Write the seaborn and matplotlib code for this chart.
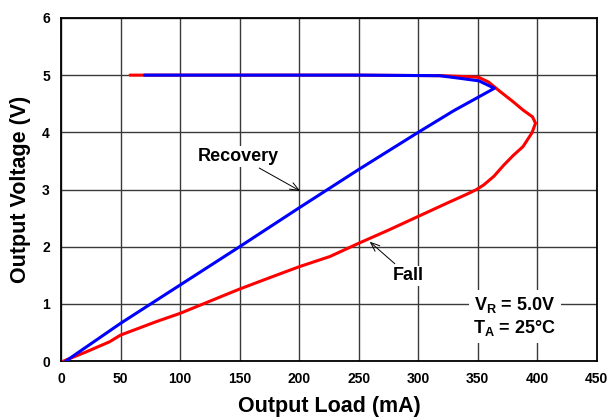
import matplotlib
matplotlib.use("Agg")
import matplotlib.pyplot as plt
import seaborn as sns
import pandas as pd

# Fall trace: output load (mA) vs output voltage (V) as the load increases
fall_load = [58, 150, 250, 320, 345, 351, 359, 369, 380, 388, 396, 398.5,
             395.5, 388, 380, 372, 363.5, 355, 349, 341, 324, 300, 275, 250,
             226, 200, 178, 150, 100, 80, 50, 41, 21, 2]
fall_volt = [5.0, 5.0, 5.0, 4.99, 4.97, 4.96, 4.88, 4.71, 4.53, 4.39, 4.27, 4.16,
             3.99, 3.75, 3.6, 3.43, 3.23, 3.08, 3.0, 2.92, 2.76, 2.53, 2.29, 2.06,
             1.83, 1.65, 1.48, 1.26, 0.835, 0.69, 0.455, 0.34, 0.16, 0.0]

# Recovery trace
rec_load = [4, 50, 100, 150, 200, 250, 300, 330, 364, 351, 333, 318, 250, 150, 70]
rec_volt = [0.0, 0.66, 1.33, 2.0, 2.68, 3.35, 4.0, 4.38, 4.77, 4.90, 4.95, 4.99,
            5.0, 5.0, 5.0]

x_ticks = [0, 50, 100, 150, 200, 250, 300, 350, 400, 450]
y_ticks = [0, 1, 2, 3, 4, 5, 6]

sns.set_theme(style="white")
plt.rcParams["font.family"] = ["Liberation Sans", "DejaVu Sans"]
plt.rcParams["text.color"] = "black"
plt.rcParams["axes.labelcolor"] = "black"
plt.rcParams["xtick.color"] = "black"
plt.rcParams["ytick.color"] = "black"
plt.rcParams["mathtext.fontset"] = "custom"
plt.rcParams["mathtext.rm"] = "Liberation Sans:bold"
plt.rcParams["mathtext.bf"] = "Liberation Sans:bold"
plt.rcParams["mathtext.it"] = "Liberation Sans:bold"

fall_df = pd.DataFrame({"load": fall_load, "volt": fall_volt, "order": range(len(fall_load))})
rec_df = pd.DataFrame({"load": rec_load, "volt": rec_volt, "order": range(len(rec_load))})

fig = plt.figure(figsize=(6.11, 4.17), dpi=100)
ax = fig.add_axes([0.0998, 0.134, 0.877, 0.823])

sns.lineplot(data=fall_df, x="load", y="volt", sort=False, estimator=None,
             color="#ff0000", lw=2.2, ax=ax, zorder=3)
sns.lineplot(data=rec_df, x="load", y="volt", sort=False, estimator=None,
             color="#0000ff", lw=2.2, ax=ax, zorder=4)

ax.set_xlim(0, 450)
ax.set_ylim(0, 6)
ax.set_xticks(x_ticks)
ax.set_yticks(y_ticks)
ax.grid(True, color="#3a3a3a", lw=1.0)
ax.set_axisbelow(True)
for s in ax.spines.values():
    s.set_color("#000000")
    s.set_linewidth(1.3)
    s.set_visible(True)

ax.tick_params(axis="both", length=0, labelsize=10, pad=8, labelcolor="black")
for lab in ax.get_xticklabels() + ax.get_yticklabels():
    lab.set_fontweight("bold")

ax.set_xlabel("Output Load (mA)", fontsize=15.5, fontweight="bold", labelpad=7,
              color="black")
ax.set_ylabel("Output Voltage (V)", fontsize=15.5, fontweight="bold", labelpad=8,
              color="black")

arrow = dict(arrowstyle="->,head_length=0.5,head_width=0.2", color="black", lw=0.7)
ax.annotate("Recovery", xy=(203, 2.95), xytext=(149, 3.58), fontsize=13,
            fontweight="bold", ha="center", va="center", arrowprops=arrow,
            color="black",
            bbox=dict(boxstyle="square,pad=0.1", fc="white", ec="none"))
ax.annotate("Fall", xy=(257.5, 2.12), xytext=(292, 1.49), fontsize=13,
            fontweight="bold", ha="center", va="center", arrowprops=arrow,
            color="black",
            bbox=dict(boxstyle="square,pad=0.1", fc="white", ec="none"))

ax.text(381, 0.78, "$\\mathbf{V_R}$ = 5.0V\n$\\mathbf{T_A}$ = 25°C", fontsize=13,
        fontweight="bold", ha="center", va="center", linespacing=1.2, zorder=5,
        color="black",
        bbox=dict(boxstyle="square,pad=0.25", fc="white", ec="none"))

fig.savefig("out.png", dpi=100)
